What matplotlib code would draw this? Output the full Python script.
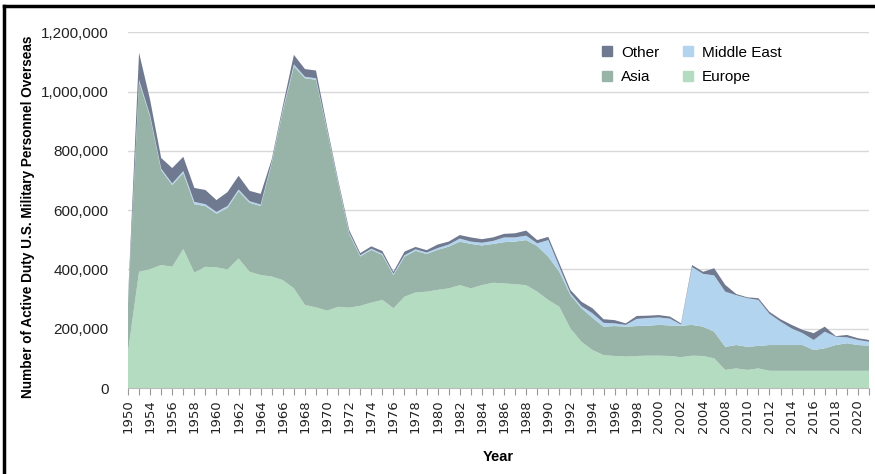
import matplotlib
matplotlib.use("Agg")
import matplotlib.pyplot as plt
import numpy as np
from matplotlib.lines import Line2D
from matplotlib.ticker import FuncFormatter

# years on the category axis (1951-52 and 2005/2007 are not in the data)
years = [1950, 1953, 1954, 1955, 1956, 1957, 1958, 1959, 1960, 1961, 1962,
         1963, 1964, 1965, 1966, 1967, 1968, 1969, 1970, 1971, 1972, 1973,
         1974, 1975, 1976, 1977, 1978, 1979, 1980, 1981, 1982, 1983, 1984,
         1985, 1986, 1987, 1988, 1989, 1990, 1991, 1992, 1993, 1994, 1995,
         1996, 1997, 1998, 1999, 2000, 2001, 2002, 2003, 2004, 2006, 2008,
         2009, 2010, 2011, 2012, 2013, 2014, 2015, 2016, 2017, 2018, 2019,
         2020, 2021]

# personnel, thousands
europe = [122, 392, 401, 415, 409, 469, 389, 409, 407, 400, 437,
          392, 381, 376, 364, 336, 280, 272, 261, 274, 271, 277,
          288, 297, 269, 308, 322, 325, 331, 336, 347, 336, 347,
          355, 353, 350, 347, 325, 297, 274, 201, 156, 128, 111,
          108, 106, 108, 109, 109, 108, 104, 109, 108, 100, 61,
          66, 61, 66, 58, 58, 58, 58, 58, 58, 58, 58,
          58, 58]
asia = [163, 641, 514, 320, 276, 256, 231, 205, 181, 208, 227,
        233, 233, 384, 571, 749, 765, 768, 607, 416, 249, 167,
        178, 152, 112, 135, 141, 127, 135, 141, 147, 150, 134,
        131, 139, 144, 152, 154, 146, 118, 113, 113, 109, 96,
        101, 101, 101, 101, 104, 103, 106, 104, 99, 90, 78,
        79, 78, 76, 87, 87, 87, 87, 70, 76, 87, 93,
        87, 85]
middle_east = [5, 7, 5, 5, 5, 7, 8, 6, 6, 6, 6,
               5, 5, 4, 5, 7, 5, 5, 4, 4, 4, 4,
               4, 4, 4, 5, 5, 5, 6, 7, 10, 8, 9,
               10, 16, 14, 15, 9, 56, 17, 6, 7, 15, 13,
               9, 6, 24, 26, 25, 23, 4, 195, 178, 190, 186,
               168, 164, 155, 105, 79, 56, 40, 34, 56, 28, 20,
               17, 13]
other = [10, 91, 52, 36, 52, 48, 47, 48, 40, 47, 46,
         35, 36, 8, 12, 32, 26, 26, 10, 8, 9, 7,
         8, 9, 7, 12, 8, 8, 12, 10, 12, 14, 12,
         12, 12, 14, 17, 11, 11, 12, 11, 15, 17, 12,
         11, 5, 10, 8, 8, 7, 4, 7, 7, 24, 23,
         4, 3, 6, 7, 8, 12, 11, 23, 17, 2, 8,
         6, 6]

c_europe = '#b4dcc0'
c_asia = '#98b4a9'
c_me = '#b2d4ee'
c_other = '#6f798f'

narrow = ['Liberation Sans Narrow', 'Liberation Sans', 'DejaVu Sans']

fig = plt.figure(figsize=(8.75, 4.74), dpi=100)
ax = fig.add_axes([128 / 875, 1 - 388 / 474, (869 - 128) / 875, (388 - 32.3) / 474])

x = np.arange(len(years))
ax.stackplot(x,
             np.array(europe) * 1000, np.array(asia) * 1000,
             np.array(middle_east) * 1000, np.array(other) * 1000,
             colors=[c_europe, c_asia, c_me, c_other], lw=0)

ax.set_xlim(0, len(years) - 1)
ax.set_ylim(0, 1200000)
ax.set_yticks(np.arange(0, 1200001, 200000))
ax.yaxis.set_major_formatter(FuncFormatter(lambda v, p: '{:,.0f}'.format(v)))
ax.set_axisbelow(True)
ax.grid(axis='y', color='#d9d9d9', lw=1)
ax.grid(axis='x', visible=False)

ax.set_xticks(x)
ax.set_xticklabels([str(y) if i % 2 == 0 else '' for i, y in enumerate(years)],
                   rotation=90, fontsize=9.5, color='#222222')
ax.tick_params(axis='x', length=5, color='#999999', pad=3)
ax.tick_params(axis='y', length=0, pad=14, labelsize=11, labelcolor='#222222')
for lbl in ax.get_yticklabels():
    lbl.set_family(narrow)

for s in ['top', 'right', 'left']:
    ax.spines[s].set_visible(False)
ax.spines['bottom'].set_color('#bbbbbb')

ax.set_ylabel('Number of Active Duty U.S. Military Personnel Overseas',
              fontsize=9.8, fontweight='bold', family='Liberation Sans')
ax.yaxis.set_label_coords((35 - 128) / 741, 0.48)
ax.set_xlabel('Year', fontsize=10.5, fontweight='bold', family=narrow, labelpad=12)

handles = [
    Line2D([], [], marker='s', ls='none', ms=7, color=c_other, label='Other'),
    Line2D([], [], marker='s', ls='none', ms=7, color=c_asia, label='Asia'),
    Line2D([], [], marker='s', ls='none', ms=7, color=c_me, label='Middle East'),
    Line2D([], [], marker='s', ls='none', ms=7, color=c_europe, label='Europe'),
]
fig.legend(handles=handles, ncol=2, loc='upper left',
           bbox_to_anchor=(586 / 875, 1 - 32 / 474), frameon=False,
           prop={'family': narrow, 'size': 11}, handletextpad=0.4,
           columnspacing=1.4, labelspacing=0.7, handlelength=1.0)

# frame lines on top and left of the picture
fig.add_artist(Line2D([4 / 875, 4 / 875], [0, 1 - 6 / 474], transform=fig.transFigure,
                      color='black', lw=2.5))
fig.add_artist(Line2D([4 / 875, 1], [1 - 6 / 474, 1 - 6 / 474], transform=fig.transFigure,
                      color='black', lw=2.5))

fig.savefig('out.png', dpi=100)
